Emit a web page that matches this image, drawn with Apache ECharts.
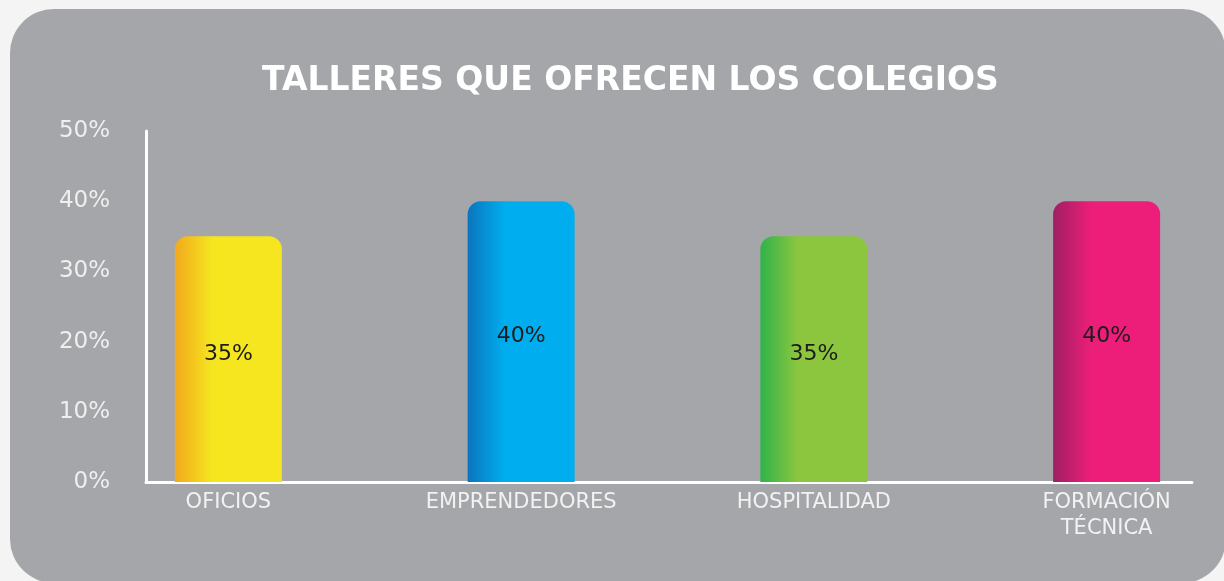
<!DOCTYPE html>
<html>
<head>
<meta charset="utf-8">
<style>
  html, body { margin: 0; padding: 0; background: #f4f4f4; overflow: hidden; }
  #chart { width: 1290px; height: 581px; }
</style>
<script src="https://cdn.jsdelivr.net/npm/echarts@6/dist/echarts.min.js"></script>
</head>
<body>
<div id="chart"></div>
<script>
  const titleText = 'TALLERES QUE OFRECEN LOS COLEGIOS';
  const categories = ['OFICIOS', 'EMPRENDEDORES', 'HOSPITALIDAD', 'FORMACIÓN\nTÉCNICA'];
  const values = [35, 40, 35, 40];
  const yTicks = [0, 10, 20, 30, 40, 50];

  // left edge shade -> main colour of each bar
  const edgeColors = ['#f2a91d', '#0b75bd', '#2fb34a', '#9e1f63'];
  const mainColors = ['#f5e61f', '#00aeef', '#8cc63f', '#ec1e79'];

  const font = 'DejaVu Sans';
  const chart = echarts.init(document.getElementById('chart'), null, { renderer: 'canvas' });

  chart.setOption({
    animation: false,
    backgroundColor: '#f4f4f4',
    graphic: [{
      type: 'rect', z: -10, silent: true,
      shape: { x: 10, y: 9, width: 1216, height: 574, r: 44 },
      style: { fill: '#a5a6aa' }
    }],
    title: {
      text: titleText, left: 257, top: 60,
      textStyle: { color: '#ffffff', fontFamily: font, fontWeight: 'bold', fontSize: 33 }
    },
    grid: [
      { left: 146, width: 1046, top: 131, bottom: 99 },
      { left: 82, width: 1171, top: 131, bottom: 99 }
    ],
    xAxis: [
      { type: 'category', gridIndex: 0, data: categories,
        axisLine: { lineStyle: { color: '#ffffff', width: 3 } },
        axisTick: { show: false }, axisLabel: { show: false }, splitLine: { show: false } },
      { type: 'category', gridIndex: 1, data: categories,
        axisLine: { show: false }, axisTick: { show: false },
        axisLabel: { color: '#f2f2f2', fontFamily: font, fontSize: 21, margin: 8, lineHeight: 26 } }
    ],
    yAxis: [
      { type: 'value', gridIndex: 0, min: yTicks[0], max: yTicks[yTicks.length - 1], interval: 10,
        axisLine: { show: true, lineStyle: { color: '#ffffff', width: 3 } },
        axisTick: { show: false }, splitLine: { show: false },
        axisLabel: { color: '#efefef', fontFamily: font, fontSize: 23, margin: 36, formatter: '{value}%' } },
      { type: 'value', gridIndex: 1, min: yTicks[0], max: yTicks[yTicks.length - 1], interval: 10, show: false }
    ],
    series: [{
      type: 'bar', xAxisIndex: 1, yAxisIndex: 1, barWidth: 107,
      data: values.map((v, i) => ({
        value: v,
        itemStyle: {
          borderRadius: [13, 13, 0, 0],
          color: new echarts.graphic.LinearGradient(0, 0, 1, 0, [
            { offset: 0, color: edgeColors[i] },
            { offset: 0.35, color: mainColors[i] },
            { offset: 1, color: mainColors[i] }
          ])
        }
      })),
      label: {
        show: true, position: 'inside', offset: [0, -5], formatter: '{c}%',
        color: '#1c1c1c', fontFamily: font, fontSize: 22
      }
    }]
  });
</script>
</body>
</html>
